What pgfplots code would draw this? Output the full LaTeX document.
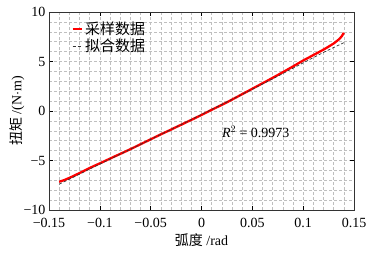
\documentclass[border=0pt]{standalone}
\usepackage{pgfplots}
\pgfplotsset{compat=1.18}
\usepackage{fontspec}
\setmainfont{Liberation Serif}
\newfontfamily\cjk{Noto Sans CJK SC}
\begin{document}
\begin{tikzpicture}
\begin{axis}[
  scale only axis,
  width=305pt, height=198pt,
  xmin=-0.15, xmax=0.15, ymin=-10, ymax=10,
  xtick={-0.15,-0.1,-0.05,0,0.05,0.1,0.15},
  xticklabels={−0.15,−0.1,−0.05,0,0.05,0.1,0.15},
  ytick={-10,-5,0,5,10},
  yticklabels={−10,−5,0,5,10},
  minor x tick num=4, minor y tick num=4,
  grid=both,
  major grid style={densely dashed, gray!50, line width=0.5pt},
  minor grid style={densely dashed, gray!50, line width=0.5pt},
  tick align=inside,
  major tick length=4pt, minor tick length=0pt,
  tick style={black, line width=0.6pt},
  axis line style={black!80, line width=0.8pt},
  ticklabel style={font=\fontsize{14}{15}\selectfont},
  xticklabel style={yshift=-5pt},
  yticklabel style={xshift=0pt},
  xlabel={{\cjk 弧度} /rad},
  ylabel={{\cjk 扭矩} /(N$\cdot$m)},
  label style={font=\fontsize{14}{15}\selectfont},
  xlabel style={at={(axis description cs:0.5,-0.152)}, anchor=center},
  ylabel style={at={(axis description cs:-0.105,0.5)}, anchor=center},
  legend style={at={(0.07,0.965)}, anchor=north west, draw=none, fill=none,
    font=\fontsize{15}{16}\selectfont\cjk, row sep=-1pt, inner sep=1pt},
  legend cell align=left,
  legend image post style={xscale=0.55},
]
\addplot[red, line width=2.3pt] coordinates {
(-0.140,-7.15) (-0.135,-6.98) (-0.130,-6.76) (-0.125,-6.52) (-0.120,-6.27)
(-0.115,-6.02) (-0.110,-5.76) (-0.105,-5.52) (-0.100,-5.29) (-0.095,-5.05)
(-0.090,-4.81) (-0.085,-4.57) (-0.080,-4.34) (-0.075,-4.10) (-0.070,-3.86)
(-0.065,-3.61) (-0.060,-3.36) (-0.055,-3.11) (-0.050,-2.86) (-0.045,-2.61)
(-0.040,-2.36) (-0.035,-2.12) (-0.030,-1.88) (-0.025,-1.63) (-0.020,-1.39)
(-0.015,-1.14) (-0.010,-0.90) (-0.005,-0.65) (0.000,-0.40) (0.005,-0.14)
(0.010,0.12) (0.015,0.37) (0.020,0.62) (0.025,0.88) (0.030,1.15)
(0.035,1.42) (0.040,1.70) (0.045,1.97) (0.050,2.25) (0.055,2.52)
(0.060,2.80) (0.065,3.07) (0.070,3.35) (0.075,3.63) (0.080,3.92)
(0.085,4.21) (0.090,4.50) (0.095,4.80) (0.100,5.10) (0.105,5.37)
(0.110,5.65) (0.115,5.92) (0.120,6.20) (0.125,6.50) (0.130,6.82)
(0.135,7.22) (0.138,7.55) (0.140,7.90)
};
\addlegendentry{采样数据}
\addplot[black!80, densely dashed, line width=0.7pt] coordinates {
(-0.140,-7.40) (-0.120,-6.38) (-0.100,-5.36) (-0.080,-4.36) (-0.060,-3.37)
(-0.040,-2.37) (-0.020,-1.37) (0.000,-0.36) (0.020,0.66) (0.040,1.68)
(0.060,2.72) (0.080,3.78) (0.100,4.86) (0.120,5.92) (0.140,6.90)
};
\addlegendentry{拟合数据}
\node[anchor=west, inner sep=0pt, font=\fontsize{14}{15}\selectfont] at (axis cs:0.02,-2.1) {\textit{R}$^2$ = 0.9973};
\coordinate (sw) at (rel axis cs:0,0);
\coordinate (ne) at (rel axis cs:1,1);
\end{axis}
\path ([shift={(-49pt,-43pt)}]sw) rectangle ([shift={(18pt,12pt)}]ne);
\end{tikzpicture}
\end{document}
